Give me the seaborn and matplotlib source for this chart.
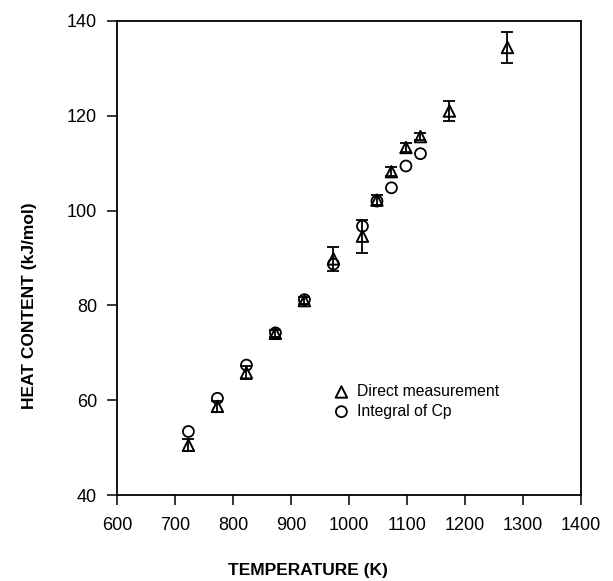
"""
Heat content vs temperature: direct measurement vs integral of Cp.
"""
import seaborn as sns
import matplotlib
matplotlib.use("Agg")
import matplotlib.pyplot as plt
import pandas as pd

# Data
temps_direct = [723, 773, 823, 873, 923, 973, 1023, 1048, 1073, 1098, 1123, 1173, 1273]
heat_direct = [50.5, 58.7, 65.8, 74.1, 81.0, 89.8, 94.6, 102.2, 108.2, 113.3, 115.6, 121.0, 134.4]
err_direct = [1.3, 1.1, 1.4, 0.8, 0.8, 2.6, 3.5, 1.1, 0.9, 0.9, 0.8, 2.1, 3.2]

temps_cp = [723, 773, 823, 873, 923, 973, 1023, 1048, 1073, 1098, 1123]
heat_cp = [53.4, 60.4, 67.4, 74.2, 81.2, 88.7, 96.7, 102.0, 104.8, 109.4, 112.0]

x_ticks = [600, 700, 800, 900, 1000, 1100, 1200, 1300, 1400]
y_ticks = [40, 60, 80, 100, 120, 140]

df_direct = pd.DataFrame({'T': temps_direct, 'H': heat_direct, 'err': err_direct})
df_cp = pd.DataFrame({'T': temps_cp, 'H': heat_cp})

sns.set_style("ticks")
plt.rcParams['font.family'] = ['Liberation Sans', 'DejaVu Sans']
plt.rcParams['text.color'] = 'black'
plt.rcParams['axes.labelcolor'] = 'black'

fig = plt.figure(figsize=(6.13, 5.81), dpi=100)
ax = fig.add_axes([0.191, 0.148, 0.757, 0.816])

# error bars for the direct measurement
ax.errorbar(df_direct['T'], df_direct['H'], yerr=df_direct['err'], fmt='none',
            ecolor='black', elinewidth=1.3, capsize=4, capthick=1.3, zorder=2)

sns.scatterplot(data=df_direct, x='T', y='H', marker='^', s=68,
                facecolor='none', edgecolor='black', color='black',
                linewidth=1.4, label='Direct measurement', ax=ax, zorder=3)
sns.scatterplot(data=df_cp, x='T', y='H', marker='o', s=62,
                facecolor='none', edgecolor='black', color='black',
                linewidth=1.3, label='Integral of Cp', ax=ax, zorder=3)

ax.set_xlim(600, 1400)
ax.set_ylim(40, 140)
ax.set_xticks(x_ticks)
ax.set_yticks(y_ticks)
ax.tick_params(axis='both', direction='out', length=7.5, width=1.1,
               color='black', labelsize=13, labelcolor='black')
ax.tick_params(axis='x', pad=8)
ax.tick_params(axis='y', pad=7)

for side in ['left', 'right', 'top', 'bottom']:
    ax.spines[side].set_visible(True)
    ax.spines[side].set_color('black')
    ax.spines[side].set_linewidth(1.3)

ax.set_xlabel('TEMPERATURE (K)', fontsize=12.5, fontweight='bold', color='black')
ax.set_ylabel('HEAT CONTENT (kJ/mol)', fontsize=12.5, fontweight='bold', color='black')
ax.xaxis.set_label_coords(0.412, -0.143)
ax.yaxis.set_label_coords(-0.172, 0.40)

leg = ax.legend(loc='upper left', bbox_to_anchor=(0.4665, 0.234), frameon=False,
                fontsize=11.3, handlelength=1.0, handletextpad=0.5,
                labelspacing=0.3, borderpad=0, borderaxespad=0)
for t in leg.get_texts():
    t.set_color('black')

fig.savefig('out.png', dpi=100)
